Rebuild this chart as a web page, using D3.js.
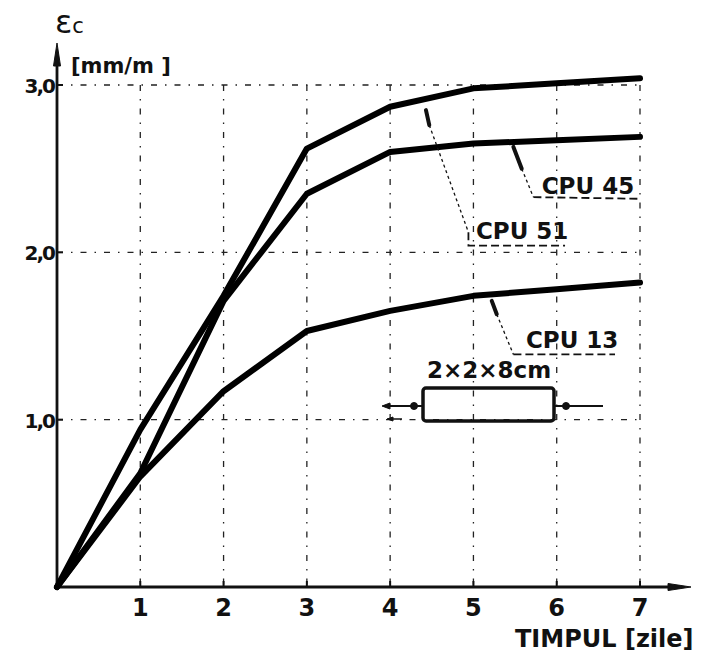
<!DOCTYPE html>
<html>
<head>
<meta charset="utf-8">
<script src="https://cdn.jsdelivr.net/npm/d3@7"></script>
<style>
  body { margin: 0; background: #fff; }
  svg { display: block; }
  text { font-family: "DejaVu Sans", sans-serif; font-weight: bold; fill: #111; }
</style>
</head>
<body>
<div id="chart"></div>
<script>
// Shrinkage curves, eps_c [mm/m] vs time [days]
const days = [0, 1, 2, 3, 4, 5, 6, 7];
const cpu51 = [0, 0.94, 1.74, 2.62, 2.87, 2.98, 3.01, 3.04];
const cpu45 = [0, 0.68, 1.71, 2.35, 2.60, 2.65, 2.67, 2.69];
const cpu13 = [0, 0.66, 1.17, 1.53, 1.65, 1.74, 1.78, 1.82];

const xTicks = [1, 2, 3, 4, 5, 6, 7];
const yTicks = [1, 2, 3];
const yTickLabels = ['1,0', '2,0', '3,0'];

const width = 703, height = 652;

const svg = d3.select('#chart')
  .append('svg')
  .attr('width', width)
  .attr('height', height);

const x = d3.scaleLinear().domain([0, 7]).range([57, 640]);
const y = d3.scaleLinear().domain([0, 3]).range([587, 85]);

// dash-dot grid
const grid = svg.append('g')
  .attr('stroke', '#222')
  .attr('stroke-width', 1.3)
  .attr('stroke-dasharray', '6,8,1.5,8')
  .attr('fill', 'none');

grid.selectAll('line.v')
  .data(xTicks)
  .enter()
  .append('line')
  .attr('x1', d => x(d)).attr('x2', d => x(d))
  .attr('y1', y(3)).attr('y2', y(0));

grid.selectAll('line.h')
  .data(yTicks)
  .enter()
  .append('line')
  .attr('x1', x(0)).attr('x2', x(7))
  .attr('y1', d => y(d)).attr('y2', d => y(d));

// axes with arrows
const axes = svg.append('g').attr('stroke', '#111').attr('fill', '#111');
axes.append('line')
  .attr('x1', x(0)).attr('x2', x(0))
  .attr('y1', y(0)).attr('y2', 52)
  .attr('stroke-width', 2.8);
axes.append('path')
  .attr('d', `M${x(0) - 3.5},66 L${x(0)},43 L${x(0) + 3.5},66 Z`)
  .attr('stroke-width', 1);
axes.append('line')
  .attr('x1', x(0)).attr('x2', 680)
  .attr('y1', y(0)).attr('y2', y(0))
  .attr('stroke-width', 2.8);
axes.append('path')
  .attr('d', `M668,${y(0) - 3.5} L691,${y(0)} L668,${y(0) + 3.5} Z`)
  .attr('stroke-width', 1);

// small tick marks
axes.selectAll('line.xt')
  .data(xTicks)
  .enter()
  .append('line')
  .attr('x1', d => x(d)).attr('x2', d => x(d))
  .attr('y1', y(0)).attr('y2', y(0) - 6)
  .attr('stroke-width', 2);
axes.selectAll('line.yt')
  .data(yTicks)
  .enter()
  .append('line')
  .attr('x1', x(0)).attr('x2', x(0) + 6)
  .attr('y1', d => y(d)).attr('y2', d => y(d))
  .attr('stroke-width', 2);

// tick labels
svg.selectAll('text.xl')
  .data(xTicks)
  .enter()
  .append('text')
  .attr('x', d => x(d))
  .attr('y', 616)
  .attr('text-anchor', 'middle')
  .style('font-size', '24px')
  .text(d => d);

svg.selectAll('text.yl')
  .data(yTicks)
  .enter()
  .append('text')
  .attr('x', x(0) - 3)
  .attr('y', d => y(d) + 8)
  .attr('text-anchor', 'end')
  .style('font-size', '20px')
  .style('letter-spacing', '-2px')
  .text((d, i) => yTickLabels[i]);

// axis titles
const eps = svg.append('text').attr('x', 55).attr('y', 33);
eps.append('tspan').style('font-size', '32px').style('font-weight', 'normal').text('ε');
eps.append('tspan').style('font-size', '21px').style('font-weight', 'normal').text('c');

svg.append('text')
  .attr('x', 71).attr('y', 73)
  .style('font-size', '21px')
  .text('[mm/m ]');

svg.append('text')
  .attr('x', 515).attr('y', 647)
  .style('font-size', '24px')
  .text('TIMPUL [zile]');

// curves
const line = d3.line()
  .x((d, i) => x(days[i]))
  .y(d => y(d));

svg.selectAll('path.curve')
  .data([cpu51, cpu45, cpu13])
  .enter()
  .append('path')
  .attr('d', line)
  .attr('fill', 'none')
  .attr('stroke', '#000')
  .attr('stroke-width', 6)
  .attr('stroke-linejoin', 'round')
  .attr('stroke-linecap', 'round');

// labels with leader lines
const ann = svg.append('g').attr('fill', 'none').attr('stroke', '#111');

function leader(thick, thin, base) {
  ann.append('path')
    .attr('d', d3.line()(thick))
    .attr('stroke-width', 4)
    .attr('stroke-linecap', 'round');
  ann.append('path')
    .attr('d', d3.line()(thin))
    .attr('stroke-width', 1.3)
    .attr('stroke-dasharray', '3,3');
  ann.append('path')
    .attr('d', d3.line()(base))
    .attr('stroke-width', 1.8)
    .attr('stroke-dasharray', '8,4');
}

// CPU 51 (top curve)
leader(
  [[x(4.43), y(2.85)], [x(4.47), y(2.76)]],
  [[x(4.47), y(2.76)], [x(4.94), y(2.12)]],
  [[x(4.94), y(2.12)], [x(4.94), y(2.04)], [x(6.1), y(2.04)]]
);
// CPU 45 (middle curve)
leader(
  [[x(5.48), y(2.63)], [x(5.58), y(2.50)]],
  [[x(5.58), y(2.50)], [x(5.72), y(2.33)]],
  [[x(5.72), y(2.33)], [x(7), y(2.32)]]
);
// CPU 13 (bottom curve)
leader(
  [[x(5.22), y(1.71)], [x(5.28), y(1.63)]],
  [[x(5.28), y(1.63)], [x(5.48), y(1.39)]],
  [[x(5.48), y(1.39)], [x(6.7), y(1.39)]]
);

const labels = [
  { text: 'CPU 51', t: 5.03, v: 2.08 },
  { text: 'CPU 45', t: 5.82, v: 2.35 },
  { text: 'CPU 13', t: 5.63, v: 1.43 }
];
svg.selectAll('text.lab')
  .data(labels)
  .enter()
  .append('text')
  .attr('x', d => x(d.t))
  .attr('y', d => y(d.v))
  .style('font-size', '23px')
  .text(d => d.text);

// specimen sketch 2x2x8 cm
svg.append('text')
  .attr('x', 427).attr('y', 378)
  .style('font-size', '23px')
  .text('2×2×8cm');

const spec = svg.append('g').attr('stroke', '#111');
spec.append('rect')
  .attr('x', 423).attr('y', 388)
  .attr('width', 131).attr('height', 33)
  .attr('rx', 3)
  .attr('fill', 'none')
  .attr('stroke-width', 3.5);
spec.append('line').attr('x1', 384).attr('x2', 423).attr('y1', 406).attr('y2', 406).attr('stroke-width', 2);
spec.append('line').attr('x1', 554).attr('x2', 603).attr('y1', 406).attr('y2', 406).attr('stroke-width', 2);
spec.append('circle').attr('cx', 414).attr('cy', 406).attr('r', 3.5).attr('fill', '#111');
spec.append('circle').attr('cx', 566).attr('cy', 406).attr('r', 3.5).attr('fill', '#111');
spec.append('path').attr('d', 'M382,406 L390,403 L390,409 Z').attr('fill', '#111');
spec.append('line').attr('x1', 390).attr('x2', 402).attr('y1', 419).attr('y2', 419).attr('stroke-width', 1.5);
spec.append('path').attr('d', 'M387,419 L393,417 L393,421 Z').attr('fill', '#111');
</script>
</body>
</html>
